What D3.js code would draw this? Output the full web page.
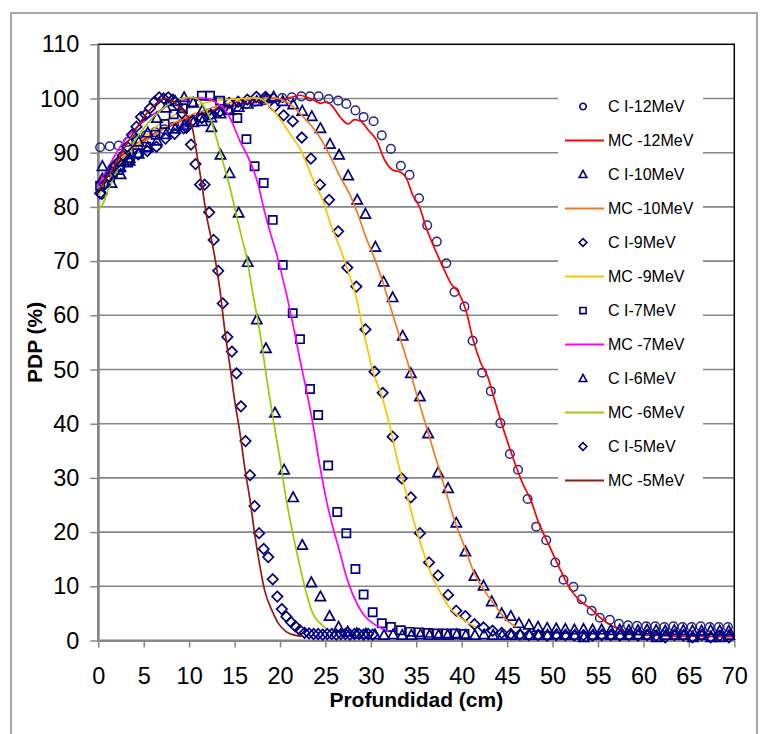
<!DOCTYPE html>
<html>
<head>
<meta charset="utf-8">
<script src="https://cdn.jsdelivr.net/npm/d3@7/dist/d3.min.js"></script>
<style>
    body { margin: 0; background: #fff; }
    text { font-family: "Liberation Sans", Arial, sans-serif; fill: #000; }
</style>
</head>
<body>
<svg id="chart" width="768" height="734"></svg>
<script>
// tick labels
const xTicks = [0, 5, 10, 15, 20, 25, 30, 35, 40, 45, 50, 55, 60, 65, 70];
const yTicks = [0, 10, 20, 30, 40, 50, 60, 70, 80, 90, 100, 110];

const legendLabels = ["C I-12MeV", "MC -12MeV", "C I-10MeV", "MC -10MeV", "C I-9MeV", "MC -9MeV",
                      "C I-7MeV", "MC -7MeV", "C I-6MeV", "MC -6MeV", "C I-5MeV", "MC -5MeV"];

// measured (CI) points, [depth cm, PDP %]
const ci12 = [[0.2,91.0],[1.25,91.2],[2.25,91.3],[3.25,92.0],[4.25,92.6],[5.25,93.2],[6.25,93.8],[7.25,94.3],
    [8.25,94.8],[9.25,95.4],[10.25,95.9],[11.25,96.4],[12.25,96.9],[13.25,97.5],[14.25,98.0],[15.25,98.5],
    [16.25,99.0],[17.25,99.4],[18.25,99.7],[19.25,100.0],[20.25,100.1],[21.3,100.2],[22.35,100.4],[23.3,100.4],
    [24.25,100.4],[25.35,99.9],[26.4,99.6],[27.3,99.0],[28.3,97.8],[29.2,96.6],[30.3,95.8],[31.2,93.2],[32.2,90.7],
    [33.3,87.6],[34.25,85.9],[35.3,81.6],[36.2,76.6],[37.25,73.6],[38.3,69.6],[39.2,64.3],[40.3,61.6],[41.2,55.3],
    [42.25,49.4],[43.2,46.0],[44.25,40.1],[45.3,34.4],[46.2,31.5],[47.25,26.1],[48.2,21.0],[49.3,18.5],[50.3,14.4],
    [51.2,11.2],[52.3,9.9],[53.2,7.6],[54.3,5.5],[55.2,4.2],[56.3,3.8],[57.3,3.1],[58.3,2.8],[59.3,2.7],[60.3,2.6],
    [61.3,2.6],[62.3,2.5],[63.3,2.6],[64.3,2.5],[65.3,2.5],[66.3,2.6],[67.3,2.5],[68.3,2.5],[69.3,2.5]];

const ci10 = [[0.45,85.2],[1.45,86.4],[2.45,87.3],[3.45,88.5],[4.45,89.8],[5.45,91.0],[6.45,92.2],[7.45,93.4],
    [8.45,94.4],[9.45,95.1],[10.45,95.6],[11.45,95.8],[12.45,96.5],[13.45,97.2],[14.45,97.8],[15.45,98.4],
    [16.45,99.0],[17.45,99.5],[18.45,100.0],[19.3,100.3],[20.3,99.5],[21.45,98.9],[22.45,97.7],[23.5,96.7],
    [24.45,94.5],[25.5,91.6],[26.5,89.6],[27.5,85.8],[28.5,81.3],[29.4,78.7],[30.5,72.6],[31.4,66.2],[32.4,63.3],
    [33.5,56.2],[34.4,49.3],[35.4,45.0],[36.3,38.2],[37.4,31.0],[38.5,28.1],[39.4,21.7],[40.4,16.4],[41.4,11.9],
    [42.4,10.1],[43.3,7.2],[44.4,5.0],[45.4,4.5],[46.3,3.2],[47.4,2.9],[48.4,2.5],[49.4,2.3],[50.4,2.2],[51.4,2.1],
    [52.4,2.0],[53.4,2.1],[54.4,2.0],[55.4,2.0],[56.4,1.9],[57.4,2.0],[58.4,1.9],[59.4,1.9],[60.4,2.0],[61.4,1.9],
    [62.4,1.8],[63.4,1.9],[64.4,1.9],[65.4,1.8],[66.4,1.8],[67.4,1.9],[68.4,1.8],[69.4,1.8]];

const ci9 = [[0.4,82.4],[1.4,86.5],[2.4,87.5],[3.4,88.7],[4.4,89.7],[5.4,90.3],[6.4,91.1],[7.4,92.6],[8.4,93.5],
    [9.4,94.5],[10.4,95.9],[11.4,96.4],[12.4,97.0],[13.4,97.6],[14.4,99.2],[15.4,99.4],[16.4,99.8],[17.4,100.3],
    [18.4,100.3],[19.4,98.5],[20.4,96.9],[21.4,95.8],[22.4,92.8],[23.4,88.9],[24.4,84.1],[25.4,81.3],[26.4,75.5],
    [27.4,68.8],[28.4,65.3],[29.4,57.4],[30.4,49.6],[31.3,45.7],[32.4,37.6],[33.4,29.9],[34.4,26.4],[35.4,19.8],
    [36.4,14.4],[37.4,12.0],[38.5,8.4],[39.4,5.5],[40.4,4.5],[41.4,3.0],[42.4,2.4],[43.4,1.8],[44.4,1.4],[45.4,1.2],
    [46.4,1.1],[47.4,1.0],[48.4,1.0],[49.4,0.9],[50.4,1.0],[51.4,1.0],[52.4,0.9],[53.4,1.0],[54.4,0.9],[55.4,1.0],
    [56.4,1.0],[57.4,0.9],[58.4,1.0],[59.4,0.9],[60.4,1.0],[61.4,0.9],[62.4,0.6],[63.4,1.0],[64.4,0.9],[65.4,0.6],
    [66.4,1.0],[67.4,0.6],[68.4,0.9],[69.4,0.6]];

const ci7 = [[0.2,83.9],[1.3,85.5],[2.3,86.8],[3.3,88.2],[4.3,89.9],[5.3,91.1],[6.3,93.3],[7.3,95.3],[8.3,97.1],
    [9.3,98.2],[10.3,99.3],[11.4,100.5],[12.3,100.5],[13.4,99.6],[14.3,97.9],[15.3,96.4],[16.3,92.5],[17.2,87.5],
    [18.2,84.4],[19.2,77.6],[20.3,69.3],[21.4,60.4],[22.2,55.6],[23.3,46.4],[24.2,41.6],[25.3,32.3],[26.3,23.7],
    [27.3,19.8],[28.3,13.2],[29.2,8.5],[30.2,5.2],[31.2,3.2],[32.2,2.5],[33.3,1.9],[34.3,1.6],[35.3,1.5],[36.3,1.4],
    [37.3,1.3],[38.3,1.3],[39.3,1.3],[40.3,1.2]];

const ci6 = [[0.45,87.5],[1.45,84.4],[2.45,86.0],[3.45,89.0],[4.45,92.0],[5.45,93.7],[6.45,96.4],[7.45,98.3],
    [8.45,99.5],[9.45,100.2],[10.45,99.2],[11.45,97.8],[12.45,94.7],[13.45,89.6],[14.45,86.2],[15.45,78.9],
    [16.45,69.8],[17.45,59.2],[18.45,53.9],[19.45,42.0],[20.45,31.5],[21.45,26.4],[22.45,17.6],[23.45,10.7],
    [24.45,8.1],[25.45,4.5],[26.45,2.5],[27.45,1.6],[28.45,1.3],[29.45,1.2],[30.45,1.1],[31.45,1.0],[32.45,1.1],
    [33.45,1.0],[34.45,1.0],[35.45,1.1],[36.45,1.0],[37.45,1.0],[38.45,1.0],[39.45,1.1],[40.45,1.0],[41.45,1.0],
    [42.45,1.1],[43.45,1.0],[44.45,1.0],[45.45,1.0],[46.45,1.1],[47.45,1.0],[48.45,1.0],[49.45,1.0],[50.45,1.1],
    [51.45,1.0],[52.45,1.0],[53.45,0.6],[54.45,1.0],[55.45,1.1],[56.45,1.0],[57.45,1.0],[58.45,1.0],[59.45,1.1],
    [60.45,1.0],[61.45,0.6],[62.45,1.0],[63.45,1.0],[64.45,1.0],[65.45,0.6],[66.45,1.0],[67.45,0.6],[68.45,0.6],
    [69.45,1.0]];

const ci5 = [[0.2,82.5],[0.7,84.1],[1.2,85.6],[1.7,87.4],[2.2,88.3],[2.7,89.5],[3.2,91.1],[3.7,93.3],[4.2,94.8],
    [4.7,96.6],[5.2,97.0],[5.7,98.2],[6.2,99.4],[6.7,100.2],[7.2,100.0],[7.7,100.2],[8.2,99.8],[8.7,98.8],[9.2,97.3],
    [9.7,94.6],[10.2,91.5],[10.7,87.9],[11.2,84.1],[11.7,84.1],[12.2,79.0],[12.7,73.9],[13.2,68.2],[13.7,62.2],
    [14.2,56.0],[14.7,53.3],[15.2,49.3],[15.7,43.2],[16.2,36.8],[16.7,30.5],[17.2,24.8],[17.7,19.8],[18.2,16.9],
    [18.7,15.4],[19.2,11.3],[19.7,8.1],[20.2,5.8],[20.7,4.4],[21.2,3.4],[21.7,2.6],[22.2,1.9],[22.7,1.4],[23.2,1.3],
    [23.7,1.2],[24.2,1.2],[24.7,1.1],[25.2,1.2],[25.7,1.2],[26.2,1.1],[26.7,1.2],[27.2,1.2],[27.7,1.1],[28.2,1.2],
    [28.7,1.2],[29.2,1.1],[29.7,1.2],[30.2,1.1]];

// simulated (MC) curves
const mc12 = [[0,84.5],[1,86.8],[2,88.6],[3,90],[4,91.3],[5,92.4],[6,93.4],[7,94.3],[8,95],[9,95.8],[10,96.4],
    [11,97],[12,97.5],[13,98],[14,98.3],[15,98.7],[16,99],[17,99.2],[18,99.4],[19,99.6],[20,99.8],[21,100.1],
    [22.2,100.6],[23,100.2],[23.6,99.8],[24.5,99.1],[25.1,99.4],[25.8,98.5],[26.7,96.4],[27.5,95.3],[28.2,96.1],
    [28.9,95.8],[29.7,94.2],[30.6,92.4],[31.5,88.7],[32.4,86.8],[33.3,86.4],[33.9,85.3],[34.6,82.2],[35.4,79.8],
    [36.1,76.1],[37,72.4],[37.9,69],[38.8,65.9],[39.7,64.1],[40.5,60.7],[41.2,55.8],[42.1,51.2],[42.9,48.5],
    [43.4,45.6],[44.5,39.5],[45.6,33.9],[46.7,29],[47.6,25.9],[48.5,21.6],[49.6,17.6],[50.7,13.6],[51.8,9.9],
    [52.9,7.5],[54.4,5.6],[55.1,4.4],[56,3.3],[57,2.3],[58,1.6],[59,1.2],[60,1.0],[62,0.9],[64,0.8],[66,0.8],
    [68,0.7],[70,0.7]];

const mc10 = [[0,84],[1,86],[2,88],[3,89.5],[4,90.8],[5,92],[6,93.2],[7,94.2],[8,95.2],[9,96],[10,96.8],[11,97.4],
    [12,98],[13,98.5],[14,99],[15,99.4],[16,99.7],[17,99.9],[18,100],[19,100.2],[20,99.9],[21,99.1],[22.2,97.2],
    [23.3,95.3],[24.4,92.8],[25.8,88.4],[26.7,85.3],[27.7,82.2],[28.6,78.5],[29.5,74.2],[30.4,70.5],[31.3,66.2],
    [32.2,61.3],[33.2,55.8],[34,51.6],[35,45.6],[36.1,39.5],[37.2,33.3],[38.3,27.2],[39.2,22.2],[40.3,17.3],
    [41.4,12.4],[42.7,8.7],[43.8,6.2],[44.9,3.8],[46,2.5]];

const mc9 = [[0,82],[1,84.5],[2,87],[3,89],[4,91],[5,92.8],[6,94.3],[7,95.6],[8,96.6],[9,97.5],[10,98.2],[11,98.8],
    [12,99.3],[13,99.6],[14,99.8],[15,99.9],[16,100],[17,100.1],[17.8,100],[18.5,99.2],[19.6,97.1],[20.7,94.5],
    [21.5,92.5],[22.2,90.8],[22.9,88.1],[23.8,84.4],[24.7,81.3],[25.6,76.7],[26.6,72.4],[27.5,68.1],[28.4,63.2],
    [29.1,57.6],[29.7,53.3],[30.2,49.8],[31.1,45.6],[32.1,39.5],[33,32.7],[33.9,27.2],[34.8,21.6],[35.7,16.7],
    [36.6,12.4],[37.5,9.3],[38.6,6.2],[39.7,4.4],[40.8,3.2],[41.6,2.5]];

const mc7 = [[0,84],[1,87],[2,90],[3,92.5],[4,94.3],[5,95.8],[6,97],[7,98],[8,99],[9,99.5],[10,99.9],[11,100.1],
    [12,100],[13,99.2],[14,97.8],[14.5,96.4],[15.6,92.1],[16.7,88.4],[17.6,84.1],[18.3,79.1],[19,74.8],[19.6,71.5],
    [20.2,67.5],[20.7,64],[21.4,58.5],[22.2,51.8],[22.9,46.2],[23.6,40.1],[24.4,32.1],[25.1,25.9],[25.8,21],
    [26.6,16.2],[27.3,11.8],[28,8.5],[29.1,5],[30.2,3.2],[31,2.4],[32,1.6]];

const mc6 = [[0,79.5],[0.5,80.5],[1,82.8],[2,86.5],[3,89.5],[4,92.2],[5,94.5],[6,96.5],[7,98],[8,99.2],[9,99.9],
    [10,100.2],[10.8,100],[11.5,98.8],[12.3,96.4],[13,92.7],[13.7,88.4],[14.5,83.5],[15.2,78.5],[15.9,73.6],
    [16.3,71],[17,64.1],[17.8,56.7],[18.5,48.7],[19.2,41.3],[19.95,33.9],[20.7,25.9],[21.4,19.8],[22.2,13.6],
    [22.9,8.7],[23.6,5.0],[24.4,3.2],[25.1,2.2]];

const mc5 = [[0,83],[1,85.5],[2,88.2],[3,91.2],[4,94],[5,96.5],[6,98.5],[7,99.8],[7.5,100],[8,99.7],[9,98.3],
    [9.5,97.2],[10,96.3],[10.3,95],[10.8,90.2],[11.4,84.1],[11.9,78.5],[12.5,73.6],[13,69],[13.4,64.5],[13.9,57.5],
    [14.5,50.5],[15,44.4],[15.6,38.2],[16.1,32.1],[16.7,25.9],[17.2,19.8],[17.8,13.6],[18.3,9.3],[19.1,5.6],
    [19.8,3.2],[20.7,1.6],[21.6,1.0],[22.5,0.8]];

// marker shapes as d3 symbol types, size = half width
function symbolType(name) {
    return {
        draw: function(ctx, r) {
            if (name === "circle") {
                ctx.moveTo(r, 0);
                ctx.arc(0, 0, r, 0, 2 * Math.PI);
            } else if (name === "triangle") {
                ctx.moveTo(0, -r * 1.05);
                ctx.lineTo(r, r * 0.8);
                ctx.lineTo(-r, r * 0.8);
                ctx.closePath();
            } else if (name === "square") {
                ctx.rect(-r, -r, 2 * r, 2 * r);
            } else {
                ctx.moveTo(0, -r);
                ctx.lineTo(r, 0);
                ctx.lineTo(0, r);
                ctx.lineTo(-r, 0);
                ctx.closePath();
            }
        }
    };
}

const markerSize = {"circle": 4.3, "triangle": 5.1, "square": 4.1, "diamond": 5.2};

const series = [
    {data: ci12, kind: "marker", shape: "circle"},
    {data: mc12, kind: "line", color: "#ff0000"},
    {data: ci10, kind: "marker", shape: "triangle"},
    {data: mc10, kind: "line", color: "#f47a20"},
    {data: ci9, kind: "marker", shape: "diamond"},
    {data: mc9, kind: "line", color: "#ffc000"},
    {data: ci7, kind: "marker", shape: "square"},
    {data: mc7, kind: "line", color: "#ff00ff"},
    {data: ci6, kind: "marker", shape: "triangle"},
    {data: mc6, kind: "line", color: "#99cc00"},
    {data: ci5, kind: "marker", shape: "diamond"},
    {data: mc5, kind: "line", color: "#951a10"}
];

const svg = d3.select("#chart");
const plotLeft = 98.3, plotRight = 734.3, plotTop = 44.3, plotBottom = 640.5;

const x = d3.scaleLinear().domain([0, 70]).range([plotLeft, plotRight]);
const y = d3.scaleLinear().domain([0, 110]).range([plotBottom, plotTop]);

// chart frame
svg.append("rect")
    .attr("x", 11).attr("y", 13)
    .attr("width", 746).attr("height", 760)
    .attr("fill", "none")
    .attr("stroke", "#8c8c8c")
    .attr("stroke-width", 1.5);

// gridlines
svg.append("g")
    .selectAll("line")
    .data(yTicks.filter(d => d > 0 && d < 110))
    .enter()
    .append("line")
    .attr("x1", plotLeft).attr("x2", plotRight)
    .attr("y1", d => y(d)).attr("y2", d => y(d))
    .attr("stroke", "#868686")
    .attr("stroke-width", 1.6);

// plot area border
svg.append("rect")
    .attr("x", plotLeft).attr("y", plotTop)
    .attr("width", plotRight - plotLeft).attr("height", plotBottom - plotTop)
    .attr("fill", "none")
    .attr("stroke", "#000")
    .attr("stroke-width", 1.5);

// legend box (covers the gridlines)
const legendX = 558, legendTop = 88;
svg.append("rect")
    .attr("x", legendX).attr("y", legendTop)
    .attr("width", 145).attr("height", 409)
    .attr("fill", "#fff");

// axes
let yAxis = svg.append("g")
    .attr("transform", "translate(" + plotLeft + ",0)")
    .call(d3.axisLeft(y).tickValues(yTicks).tickSize(8).tickSizeOuter(0).tickPadding(11));

let xAxis = svg.append("g")
    .attr("transform", "translate(0," + plotBottom + ")")
    .call(d3.axisBottom(x).tickValues(xTicks).tickSize(7).tickSizeOuter(0).tickPadding(20));

[yAxis, xAxis].forEach(function(ax) {
    ax.select(".domain").attr("stroke", "#868686").attr("stroke-width", 1.8);
    ax.selectAll(".tick line").attr("stroke", "#868686").attr("stroke-width", 1.5);
    ax.selectAll(".tick text")
        .attr("fill", "#000")
        .style("font-family", '"Liberation Sans", Arial, sans-serif')
        .style("font-size", "23.5px");
});

// axis titles
svg.append("text")
    .attr("x", (plotLeft + plotRight) / 2)
    .attr("y", 707)
    .attr("text-anchor", "middle")
    .style("font-size", "21px")
    .style("font-weight", "bold")
    .text("Profundidad (cm)");

svg.append("text")
    .attr("transform", "translate(42," + ((plotTop + plotBottom) / 2) + ") rotate(-90)")
    .attr("text-anchor", "middle")
    .style("font-size", "21px")
    .style("font-weight", "bold")
    .text("PDP (%)");

// data
const line = d3.line()
    .x(d => x(d[0]))
    .y(d => y(d[1]))
    .curve(d3.curveMonotoneX);

const plot = svg.append("g");

series.forEach(function(s) {
    if (s.kind === "line") {
        plot.append("path")
            .datum(s.data)
            .attr("d", line)
            .attr("fill", "none")
            .attr("stroke", s.color)
            .attr("stroke-width", 1.7);
    } else {
        let sym = d3.symbol().type(symbolType(s.shape)).size(markerSize[s.shape]);
        plot.append("g")
            .selectAll("path")
            .data(s.data)
            .enter()
            .append("path")
            .attr("transform", d => "translate(" + x(d[0]) + "," + y(d[1]) + ")")
            .attr("d", sym)
            .attr("fill", "none")
            .attr("stroke", s.shape === "circle" ? "#26268f" : "#000080")
            .attr("stroke-width", s.shape === "circle" ? 1.5 : 1.7);
    }
});

// legend entries
let legend = svg.append("g");
series.forEach(function(s, i) {
    let ly = 106.5 + 34 * i;
    if (s.kind === "line") {
        legend.append("line")
            .attr("x1", 565).attr("x2", 604)
            .attr("y1", ly).attr("y2", ly)
            .attr("stroke", s.color)
            .attr("stroke-width", 1.8);
    } else {
        legend.append("path")
            .attr("transform", "translate(583," + ly + ")")
            .attr("d", d3.symbol().type(symbolType(s.shape)).size(markerSize[s.shape] * 0.75)())
            .attr("fill", "none")
            .attr("stroke", "#000080")
            .attr("stroke-width", 1.6);
    }
    legend.append("text")
        .attr("x", 608)
        .attr("y", ly + 5.8)
        .style("font-size", "16px")
        .text(legendLabels[i]);
});
</script>
</body>
</html>
